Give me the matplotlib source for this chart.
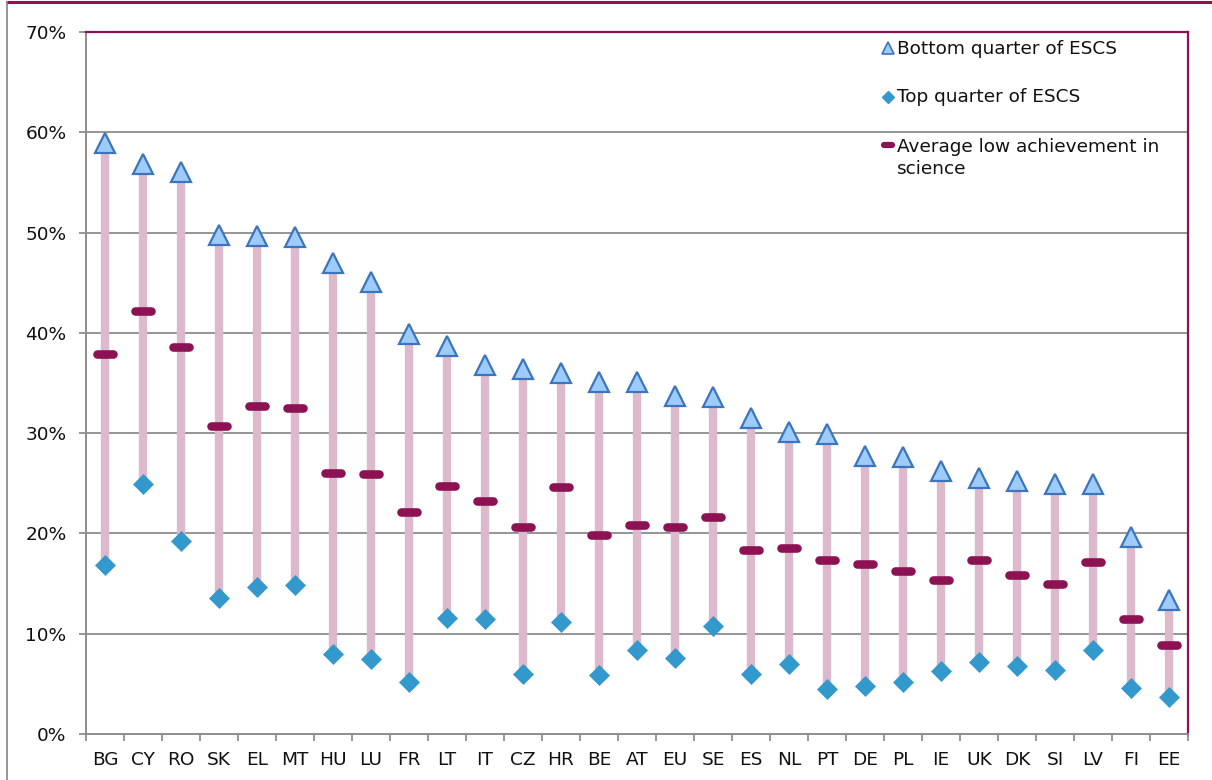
import matplotlib
matplotlib.use("Agg")
import matplotlib.pyplot as plt
from matplotlib.lines import Line2D
from matplotlib.ticker import FixedLocator, PercentFormatter

countries = ["BG", "CY", "RO", "SK", "EL", "MT", "HU", "LU", "FR", "LT", "IT", "CZ", "HR", "BE", "AT",
             "EU", "SE", "ES", "NL", "PT", "DE", "PL", "IE", "UK", "DK", "SI", "LV", "FI", "EE"]
bottom_quarter = [58.9, 56.8, 56.0, 49.8, 49.7, 49.6, 47.0, 45.1, 39.9, 38.7, 36.8, 36.4, 36.0, 35.1, 35.1,
                  33.7, 33.6, 31.5, 30.1, 29.9, 27.7, 27.6, 26.2, 25.5, 25.2, 24.9, 24.9, 19.6, 13.4]
top_quarter = [16.9, 24.9, 19.2, 13.6, 14.7, 14.9, 8.0, 7.5, 5.2, 11.6, 11.5, 6.0, 11.2, 5.9, 8.4,
               7.6, 10.8, 6.0, 7.0, 4.5, 4.8, 5.2, 6.3, 7.2, 6.8, 6.4, 8.4, 4.6, 3.7]
average = [37.9, 42.2, 38.6, 30.7, 32.7, 32.5, 26.0, 25.9, 22.1, 24.7, 23.2, 20.6, 24.6, 19.8, 20.8,
           20.6, 21.6, 18.3, 18.5, 17.4, 17.0, 16.3, 15.4, 17.4, 15.9, 15.0, 17.2, 11.5, 8.9]
y_ticks = [0, 10, 20, 30, 40, 50, 60, 70]
legend_labels = ["Bottom quarter of ESCS", "Top quarter of ESCS", "Average low achievement in", "science"]

PINK = "#ddb9cd"
MAROON = "#8c1254"
TRI_FACE = "#9dcbfa"
TRI_EDGE = "#3c74bd"
DIAMOND = "#3399cc"
GRID = "#8c8c8c"
FS = 13.3

plt.rcParams["font.family"] = ["DejaVu Sans"]

W, H = 1212, 780
fig = plt.figure(figsize=(W / 100, H / 100), dpi=100)
L, R, T, B = 86, 1188, 32, 734
ax = fig.add_axes([L / W, 1 - B / H, (R - L) / W, (B - T) / H])

x = list(range(len(countries)))

# connecting bars
ax.vlines(x, top_quarter, bottom_quarter, colors=PINK, linewidth=6.0, zorder=2)
# average dashes
ax.hlines(average, [i - 0.22 for i in x], [i + 0.22 for i in x], colors=MAROON,
          linewidth=6.2, capstyle="round", zorder=3)
# markers
ax.plot(x, bottom_quarter, linestyle="none", marker="^", markersize=14.5,
        markerfacecolor=TRI_FACE, markeredgecolor=TRI_EDGE, markeredgewidth=1.6, zorder=4)
ax.plot(x, top_quarter, linestyle="none", marker="D", markersize=10,
        markerfacecolor=DIAMOND, markeredgecolor=DIAMOND, markeredgewidth=0.5, zorder=4)

ax.set_xlim(-0.5, len(countries) - 0.5)
ax.set_ylim(0, 70)

ax.yaxis.set_major_locator(FixedLocator(y_ticks))
ax.yaxis.set_major_formatter(PercentFormatter(decimals=0))
ax.set_xticks(x)
ax.set_xticklabels(countries)
ax.set_xticks([i - 0.5 for i in range(len(countries) + 1)], minor=True)

ax.tick_params(axis="x", which="major", length=0, pad=12, labelsize=FS, labelcolor="#111111")
ax.tick_params(axis="x", which="minor", length=5, width=1.3, color=GRID)
ax.tick_params(axis="y", which="major", length=5, width=1.3, color=GRID, pad=9,
               labelsize=FS, labelcolor="#111111")

for yv in y_ticks[1:-1]:
    ax.axhline(yv, color=GRID, linewidth=1.3, zorder=1)

ax.spines["left"].set_color(GRID)
ax.spines["left"].set_linewidth(1.4)
ax.spines["bottom"].set_color(GRID)
ax.spines["bottom"].set_linewidth(1.4)
ax.spines["top"].set_color(MAROON)
ax.spines["top"].set_linewidth(1.6)
ax.spines["right"].set_color(MAROON)
ax.spines["right"].set_linewidth(1.6)


def axx(px):
    return (px - L) / (R - L)


def axy(py):
    return 1 - (py - T) / (B - T)


# legend (manual)
tr = ax.transAxes
ax.plot([axx(888)], [axy(48)], transform=tr, marker="^", markersize=9, linestyle="none",
        markerfacecolor=TRI_FACE, markeredgecolor=TRI_EDGE, markeredgewidth=1.2, clip_on=False, zorder=5)
ax.plot([axx(888)], [axy(97)], transform=tr, marker="D", markersize=6.5, linestyle="none",
        markerfacecolor=DIAMOND, markeredgecolor=DIAMOND, clip_on=False, zorder=5)
ax.plot([axx(884), axx(892)], [axy(144.5), axy(144.5)], transform=tr, color=MAROON,
        linewidth=4.5, solid_capstyle="round", clip_on=False, zorder=5)
for lab, py in zip(legend_labels, [54, 102, 152, 174]):
    ax.text(axx(897), axy(py), lab, transform=tr, fontsize=FS, va="baseline", ha="left", color="#111111")

# outer chart frame fragments
fig.add_artist(Line2D([7 / W, 1], [1 - 2 / H, 1 - 2 / H], color=MAROON, linewidth=2.2))
fig.add_artist(Line2D([7 / W, 7 / W], [0, 1 - 2 / H], color=GRID, linewidth=1.3))

fig.savefig("out.png", dpi=100)
